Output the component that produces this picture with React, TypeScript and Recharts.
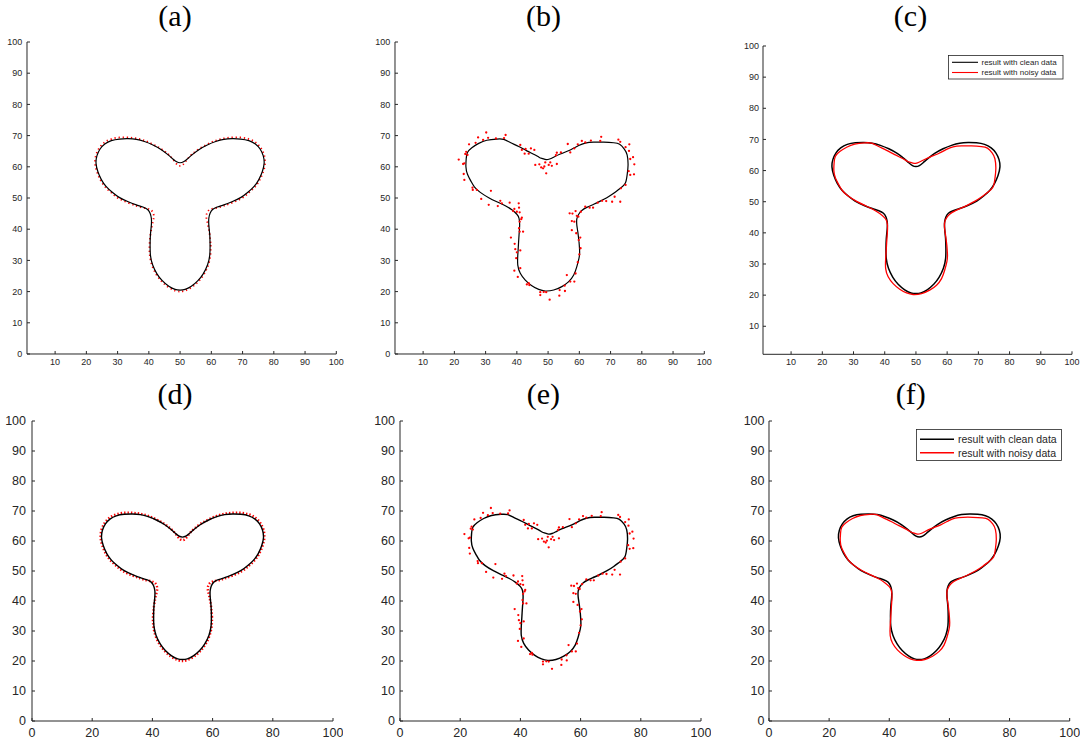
import React from 'react';
import { ComposedChart, Line, Scatter, XAxis, YAxis } from 'recharts';

// ---------- data (x, y in axis units) ----------
const trueShape: [number, number][] = [
  [50.0, 60.3], [50.8, 60.6], [51.6, 61.5], [52.6, 62.8], [53.9, 64.1], [56.0, 65.7], [58.7, 67.2], [61.4, 68.4], [64.0, 69.1],
  [66.7, 69.4], [69.4, 69.4], [72.0, 68.9], [74.2, 67.8], [75.8, 66.1], [76.9, 63.8], [77.2, 61.1], [76.6, 58.4],
  [75.5, 55.8], [74.0, 53.6], [72.0, 51.7], [69.7, 49.9], [66.7, 48.5], [64.0, 47.5], [61.9, 46.9], [59.8, 46.4],
  [58.7, 45.4], [58.4, 44.0], [58.7, 42.4], [59.1, 40.5], [59.5, 38.1], [59.8, 34.9], [59.7, 31.7], [59.0, 28.5],
  [57.6, 25.5], [55.8, 23.2], [53.7, 21.4], [51.6, 20.3], [50.0, 20.0],
  [48.4, 20.3], [46.3, 21.4], [44.2, 23.2], [42.4, 25.5], [41.0, 28.5], [40.3, 31.7], [40.2, 34.9], [40.5, 38.1],
  [40.9, 40.5], [41.3, 42.4], [41.6, 44.0], [41.3, 45.4], [40.2, 46.4], [38.1, 46.9], [36.0, 47.5], [33.3, 48.5],
  [30.3, 49.9], [28.0, 51.7], [26.0, 53.6], [24.5, 55.8], [23.4, 58.4], [22.8, 61.1], [23.1, 63.8], [24.2, 66.1],
  [25.8, 67.8], [28.0, 68.9], [30.6, 69.4], [33.3, 69.4], [36.0, 69.1], [38.6, 68.4], [41.3, 67.2], [44.0, 65.7],
  [46.1, 64.1], [47.4, 62.8], [48.4, 61.5], [49.2, 60.6], [50.0, 60.3],
];

const cleanRecon: [number, number][] = [
  [50.0, 61.3], [51.1, 61.6], [52.4, 62.6], [53.9, 63.9], [56.0, 65.5], [58.7, 67.0], [61.4, 68.1], [64.0, 68.8], [66.7, 69.0],
  [69.4, 68.9], [72.0, 68.4], [74.1, 67.3], [75.6, 65.7], [76.6, 63.6], [76.9, 61.1], [76.3, 58.4], [75.2, 55.9],
  [73.7, 53.7], [71.8, 51.9], [69.5, 50.2], [66.6, 48.8], [64.0, 47.8], [61.9, 47.1], [60.4, 46.3], [59.6, 45.1],
  [59.2, 43.5], [59.2, 41.3], [59.5, 38.1], [59.6, 34.9], [59.5, 31.7], [58.8, 28.6], [57.4, 25.7], [55.7, 23.5],
  [53.6, 21.7], [51.6, 20.7], [50.0, 20.5],
  [48.4, 20.7], [46.4, 21.7], [44.3, 23.5], [42.6, 25.7], [41.2, 28.6], [40.5, 31.7], [40.4, 34.9], [40.5, 38.1],
  [40.8, 41.3], [40.8, 43.5], [40.4, 45.1], [39.6, 46.3], [38.1, 47.1], [36.0, 47.8], [33.4, 48.8], [30.5, 50.2],
  [28.2, 51.9], [26.3, 53.7], [24.8, 55.9], [23.7, 58.4], [23.1, 61.1], [23.4, 63.6], [24.4, 65.7], [25.9, 67.3],
  [28.0, 68.4], [30.6, 68.9], [33.3, 69.0], [36.0, 68.8], [38.6, 68.1], [41.3, 67.0], [44.0, 65.5], [46.1, 63.9],
  [47.6, 62.6], [48.9, 61.6], [50.0, 61.3],
];

const noisyRecon: [number, number][] = [
  [49.4, 62.3], [50.5, 62.5], [51.6, 63.0], [53.9, 64.1], [57.1, 65.4], [59.8, 66.8], [61.9, 67.6], [64.6, 67.9], [67.8, 67.9],
  [71.0, 67.7], [72.9, 67.2], [74.4, 65.7], [75.3, 63.8], [75.6, 60.6], [75.3, 57.4], [74.7, 54.7], [73.1, 53.1],
  [71.0, 51.5], [68.8, 50.1], [66.7, 49.0], [64.6, 48.0], [62.4, 47.0], [60.8, 46.0], [59.8, 44.8], [59.2, 43.3],
  [59.2, 41.3], [59.5, 39.2], [59.9, 36.0], [60.1, 32.8], [59.9, 30.7], [59.2, 28.0], [58.2, 25.3], [56.6, 23.2],
  [54.4, 21.6], [51.8, 20.5], [49.1, 20.2], [47.0, 20.7], [44.8, 21.9], [42.7, 23.7], [41.1, 25.9], [40.3, 28.5],
  [40.3, 31.7], [40.5, 34.9], [40.7, 38.1], [40.9, 41.3], [40.7, 43.5], [40.0, 44.8], [38.4, 46.2], [36.3, 47.5],
  [33.6, 48.8], [31.0, 50.1], [28.3, 51.8], [26.4, 53.6], [25.3, 55.4], [24.2, 57.6], [23.7, 60.0], [23.8, 62.7],
  [24.2, 64.6], [25.6, 66.1], [27.8, 67.5], [30.4, 68.5], [33.6, 68.9], [35.8, 68.8], [37.9, 67.8], [40.6, 66.5],
  [43.2, 65.1], [45.9, 63.8], [47.2, 63.0], [48.3, 62.6], [49.4, 62.3],
];

const noisyPoints: [number, number][] = [
  [30.2, 71.0], [36.4, 70.2], [30.8, 69.3], [33.3, 69.1], [35.9, 69.2], [27.6, 69.4], [29.2, 68.6], [26.8, 67.7],
  [24.7, 67.2], [23.8, 64.8], [23.5, 64.1], [24.2, 63.8], [23.2, 61.1], [22.8, 60.9], [21.4, 62.3], [23.0, 57.7],
  [23.2, 55.8], [25.8, 53.3], [25.9, 52.6], [27.2, 52.6], [28.6, 49.7], [31.7, 52.3], [31.0, 47.8], [33.9, 47.4],
  [34.7, 49.1], [35.2, 48.3], [37.7, 48.5], [39.2, 46.5], [38.8, 45.8], [40.6, 48.3], [40.7, 46.9], [40.9, 45.4],
  [40.0, 45.6], [41.6, 43.7], [41.4, 43.2], [40.9, 42.4], [40.7, 40.3], [40.9, 39.2], [42.0, 39.2], [38.1, 37.3],
  [39.3, 35.3], [39.5, 33.6], [41.1, 33.2], [40.0, 32.6], [39.8, 30.7], [39.2, 26.7], [40.3, 24.7], [41.1, 27.5],
  [43.8, 22.7], [44.0, 22.1], [43.2, 22.3], [47.5, 19.8], [47.5, 18.9], [48.6, 19.9], [49.4, 19.8], [50.5, 17.4],
  [53.7, 20.5], [53.6, 18.7], [55.3, 21.9], [55.4, 20.2], [57.1, 23.2], [58.4, 23.2], [56.0, 25.3], [58.8, 25.8],
  [59.5, 29.4], [60.0, 31.9], [60.4, 33.9], [59.8, 36.5], [60.3, 37.3], [59.0, 38.7], [57.6, 39.7], [58.4, 42.4],
  [57.6, 42.6], [56.9, 45.1], [57.8, 45.0], [58.8, 45.8], [59.2, 44.3], [59.7, 44.0], [60.5, 45.6], [61.9, 47.2],
  [63.3, 46.9], [64.4, 46.9], [65.9, 48.5], [67.3, 49.1], [68.6, 49.0], [70.5, 48.8], [73.1, 48.8], [71.3, 50.4],
  [73.3, 53.1], [74.8, 54.2], [76.3, 57.4], [77.5, 57.6], [75.8, 58.6], [77.6, 60.8], [76.3, 62.5], [77.2, 63.1],
  [75.9, 65.1], [74.8, 66.3], [76.0, 67.2], [73.1, 68.0], [72.5, 68.7], [67.0, 69.6], [66.7, 68.3], [63.7, 68.4],
  [61.9, 67.8], [60.8, 68.3], [59.5, 67.2], [56.3, 67.3], [58.4, 65.9], [57.1, 64.6], [54.1, 64.6], [52.8, 64.5],
  [52.5, 63.7], [52.8, 60.9], [50.7, 61.4], [51.2, 60.3], [50.2, 60.6], [49.1, 61.4], [48.8, 60.1], [48.4, 59.5],
  [47.8, 59.8], [47.2, 60.8], [45.9, 60.6], [49.4, 57.9], [45.6, 65.4], [44.5, 65.9], [43.8, 64.2], [42.5, 64.2],
  [42.8, 65.7], [41.1, 67.0], [41.6, 65.4],
];

const xTicksTop = [10, 20, 30, 40, 50, 60, 70, 80, 90, 100];
const yTicksTop = [0, 10, 20, 30, 40, 50, 60, 70, 80, 90, 100];
const yTicksC = [10, 20, 30, 40, 50, 60, 70, 80, 90, 100];
const xTicksBottom = [0, 20, 40, 60, 80, 100];
const yTicksBottom = [0, 10, 20, 30, 40, 50, 60, 70, 80, 90, 100];

const panelTitles = ['(a)', '(b)', '(c)', '(d)', '(e)', '(f)'];
const legendLabels = ['result with clean data', 'result with noisy data'];

// ---------- styling ----------
const AX = '#262626';
const FONT = '"Liberation Sans", Arial, Helvetica, sans-serif';
const SERIF = '"Liberation Serif", "Times New Roman", serif';
const RED = '#ff0000';

const toPts = (a: [number, number][]) => a.map(([x, y]) => ({ x, y }));
// closed curve (first point == last point): re-order so the path starts at a given point
// on a nearly straight stretch, so the spline's open ends do not fall on a bend
const closedFrom = (a: [number, number][], start: [number, number]) => {
  const k = Math.max(0, a.findIndex((p) => p[0] === start[0] && p[1] === start[1]));
  return toPts([...a.slice(k), ...a.slice(1, k + 1)]);
};

const TRUE = closedFrom(trueShape, [59.8, 34.9]);
const CLEAN = closedFrom(cleanRecon, [59.6, 34.9]);
const NOISYR = closedFrom(noisyRecon, [59.9, 36.0]);
const NOISYP = toPts(noisyPoints);

type Kind = 'true' | 'noisy' | 'compare';
interface PanelCfg {
  l: number; r: number; t: number; b: number;
  xd: [number, number]; yd: [number, number];
  xt: number[]; yt: number[];
  fs: number; xm: number; ym: number;
  kind: Kind; big: boolean;
}

const panels: PanelCfg[] = [
  { l: 26.7, r: 336, t: 42.3, b: 354.3, xd: [1, 100], yd: [0, 100], xt: xTicksTop, yt: yTicksTop, fs: 9, xm: 7.5, ym: 7.7, kind: 'true', big: false },
  { l: 394.7, r: 704, t: 42.3, b: 354.3, xd: [1, 100], yd: [0, 100], xt: xTicksTop, yt: yTicksTop, fs: 9, xm: 7.5, ym: 7.7, kind: 'noisy', big: false },
  { l: 763.3, r: 1072.3, t: 46, b: 354.3, xd: [1, 100], yd: [1, 100], xt: xTicksTop, yt: yTicksC, fs: 9, xm: 7.5, ym: 7, kind: 'compare', big: false },
  { l: 32.3, r: 333.3, t: 421, b: 721, xd: [0, 100], yd: [0, 100], xt: xTicksBottom, yt: yTicksBottom, fs: 12.5, xm: 10, ym: 9, kind: 'true', big: true },
  { l: 400.3, r: 701.3, t: 421, b: 721, xd: [0, 100], yd: [0, 100], xt: xTicksBottom, yt: yTicksBottom, fs: 12.5, xm: 10, ym: 8, kind: 'noisy', big: true },
  { l: 769.3, r: 1070, t: 421, b: 721, xd: [0, 100], yd: [0, 100], xt: xTicksBottom, yt: yTicksBottom, fs: 12.5, xm: 10, ym: 7.5, kind: 'compare', big: true },
];

const titlePos = [
  { x: 175, y: 26 }, { x: 543.5, y: 26 }, { x: 910.5, y: 26 },
  { x: 175, y: 404 }, { x: 543.3, y: 404 }, { x: 910.8, y: 404 },
];

const dotShape = (props: any) => <circle cx={props.cx} cy={props.cy} r={1.15} fill={RED} />;

function Panel({ p }: { p: PanelCfg }) {
  const W = p.r - p.l + 50;
  const H = p.b - p.t + 40;
  const tick = { fontSize: p.fs, fill: AX, fontFamily: FONT };
  const blank = () => '';
  const lw = p.big ? 1.4 : 1.2;
  const series: React.ReactNode[] = [];
  if (p.kind === 'true') {
    series.push(
      <Line key="t" xAxisId="b" yAxisId="l" data={TRUE} dataKey="y" type="natural" stroke={RED}
        strokeWidth={p.big ? 2.4 : 1.8} strokeDasharray={p.big ? '1.4 2.0' : '1.3 2.8'} dot={false} activeDot={false} isAnimationActive={false} />,
      <Line key="c" xAxisId="b" yAxisId="l" data={CLEAN} dataKey="y" type="natural" stroke="#000"
        strokeWidth={lw} dot={false} activeDot={false} isAnimationActive={false} />,
    );
  } else if (p.kind === 'noisy') {
    series.push(
      <Scatter key="p" xAxisId="b" yAxisId="l" data={NOISYP} dataKey="y" fill={RED} shape={dotShape} isAnimationActive={false} />,
      <Line key="n" xAxisId="b" yAxisId="l" data={NOISYR} dataKey="y" type="natural" stroke="#000"
        strokeWidth={lw} dot={false} activeDot={false} isAnimationActive={false} />,
    );
  } else {
    series.push(
      <Line key="c" xAxisId="b" yAxisId="l" data={CLEAN} dataKey="y" type="natural" stroke="#000"
        strokeWidth={1.5} dot={false} activeDot={false} isAnimationActive={false} />,
      <Line key="n" xAxisId="b" yAxisId="l" data={NOISYR} dataKey="y" type="natural" stroke={RED}
        strokeWidth={1.3} dot={false} activeDot={false} isAnimationActive={false} />,
    );
  }
  return (
    <div style={{ position: 'absolute', left: p.l - 40, top: p.t - 10 }}>
      <ComposedChart width={W} height={H} margin={{ top: 10, right: 10, bottom: 0, left: 0 }}>
        <XAxis xAxisId="b" type="number" dataKey="x" domain={p.xd} ticks={p.xt} interval={0} allowDataOverflow
          orientation="bottom" height={30} tickSize={-3} tickMargin={p.xm} stroke={AX} tick={tick} />
        <XAxis xAxisId="t" type="number" dataKey="x" domain={p.xd} ticks={p.xt} interval={0} allowDataOverflow
          orientation="top" height={0} tickSize={-3} stroke={AX} tickFormatter={blank} />
        <YAxis yAxisId="l" type="number" dataKey="y" domain={p.yd} ticks={p.yt} interval={0} allowDataOverflow
          orientation="left" width={40} tickSize={-3} tickMargin={p.ym} stroke={AX} tick={tick} />
        <YAxis yAxisId="r" type="number" dataKey="y" domain={p.yd} ticks={p.yt} interval={0} allowDataOverflow
          orientation="right" width={0} tickSize={-3} stroke={AX} tickFormatter={blank} />
        {series}
      </ComposedChart>
    </div>
  );
}

function LegendBox({ x, y, w, h, lx1, lx2, ty1, ty2, tx, fs, sw }: any) {
  return (
    <g>
      <rect x={x} y={y} width={w} height={h} fill="#fff" stroke={AX} strokeWidth={0.8} />
      <line x1={lx1} x2={lx2} y1={ty1} y2={ty1} stroke="#000" strokeWidth={sw} />
      <line x1={lx1} x2={lx2} y1={ty2} y2={ty2} stroke={RED} strokeWidth={sw} />
      <text x={tx} y={ty1} fontSize={fs} fontFamily={FONT} fill={AX} dominantBaseline="central">{legendLabels[0]}</text>
      <text x={tx} y={ty2} fontSize={fs} fontFamily={FONT} fill={AX} dominantBaseline="central">{legendLabels[1]}</text>
    </g>
  );
}

export default function App() {
  return (
    <div style={{ position: 'absolute', left: 0, top: 0, width: 1083, height: 744, background: '#fff', overflow: 'hidden' }}>
      {panels.map((p, i) => <Panel key={i} p={p} />)}
      <svg width={1083} height={744} style={{ position: 'absolute', left: 0, top: 0, pointerEvents: 'none' }}>
        {titlePos.map((t, i) => (
          <text key={i} x={t.x} y={t.y} textAnchor="middle" fontSize={30} fontFamily={SERIF} fill="#000">{panelTitles[i]}</text>
        ))}
        <LegendBox x={948.5} y={55.5} w={114.5} h={23.5} lx1={952} lx2={978} ty1={62.3} ty2={72.5} tx={981.5} fs={8} sw={1.1} />
        <LegendBox x={916.5} y={429.5} w={145} h={31} lx1={920} lx2={954} ty1={439.3} ty2={452.7} tx={958} fs={10.5} sw={1.4} />
      </svg>
    </div>
  );
}
